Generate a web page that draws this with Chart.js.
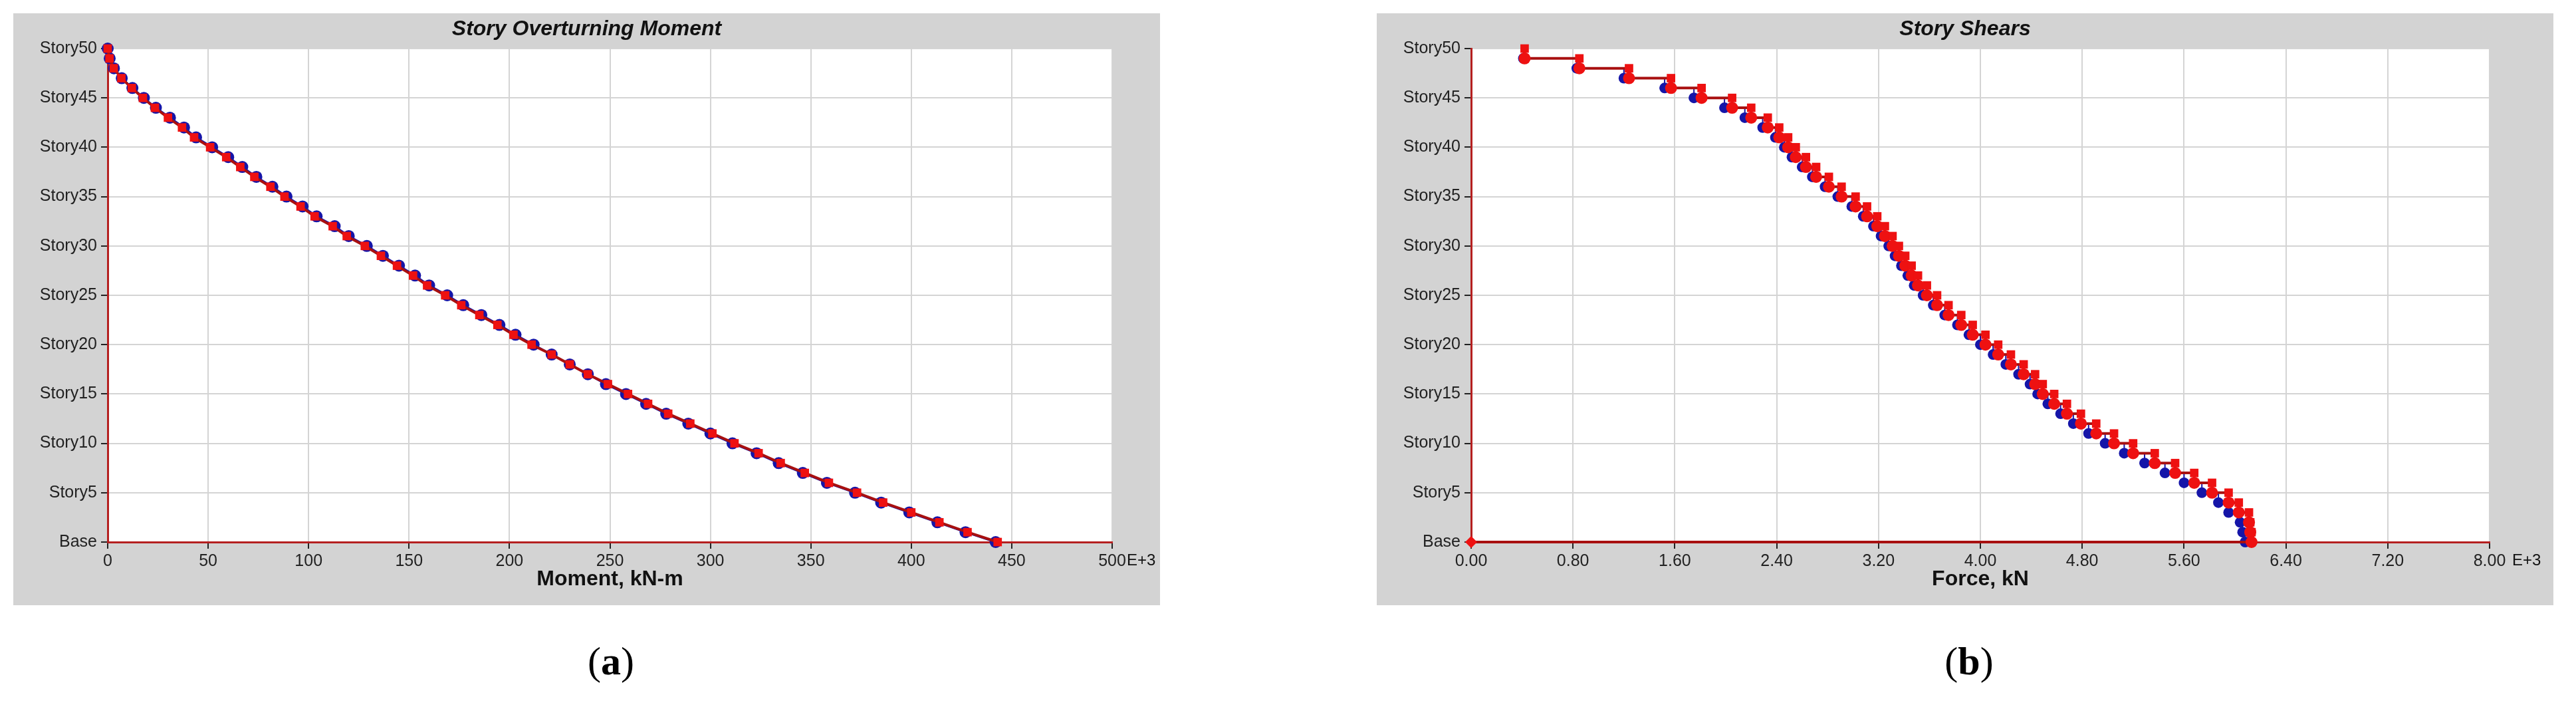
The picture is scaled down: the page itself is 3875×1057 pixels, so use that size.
<!DOCTYPE html>
<html>
<head>
<meta charset="utf-8">
<script src="https://cdn.jsdelivr.net/npm/chart.js@4"></script>
<style>
  body { margin: 0; background: #fff; width: 3875px; height: 1057px; position: relative; overflow: hidden; }
  .panel { position: absolute; top: 20px; height: 890px; }
  .cap { position: absolute; top: 960px; font-family: "Liberation Serif", serif; font-size: 60px; transform: translateX(-50%); }
</style>
</head>
<body>
<div class="panel" style="left:20px;width:1725px"><canvas id="momentChart"></canvas></div>
<div class="panel" style="left:2071px;width:1770px"><canvas id="shearChart"></canvas></div>
<div class="cap" style="left:919px">(<b>a</b>)</div>
<div class="cap" style="left:2962px">(<b>b</b>)</div>
<script>
// stories 0 (Base) .. 50
const storyTickLabels = ['Base', 'Story5', 'Story10', 'Story15', 'Story20', 'Story25', 'Story30', 'Story35', 'Story40', 'Story45', 'Story50'];

// overturning moment, E+3 kN-m, index = story (0 = Base)
const momentRed = [443, 428, 414, 400, 386, 373, 359, 347, 335, 324, 312, 301, 290, 279, 269, 259, 249, 239, 230, 221,
  211, 202, 194, 185, 176, 168, 159, 152, 144, 136, 128, 119, 112, 103, 96, 88, 81, 73, 66, 59,
  51, 43, 37, 30, 23.5, 17.5, 12, 6.8, 3, 0.9, 0];
const momentBlue = [442, 427, 413, 399, 385, 372, 358, 346, 334, 323, 311, 300, 289, 278, 268, 258, 248, 239, 230, 221,
  212, 203, 195, 186, 177, 169, 160, 153, 145, 137, 129, 120, 113, 104, 97, 89, 82, 74, 67, 60,
  52, 44, 38, 31, 24, 18, 12.3, 7, 3.1, 1, 0];
const momentTicks = [0, 50, 100, 150, 200, 250, 300, 350, 400, 450, 500];

// story shear, E+3 kN, index 0 = Story1 .. 49 = Story50
const shearRed = [6.13, 6.12, 6.11, 6.03, 5.95, 5.82, 5.68, 5.53, 5.37, 5.20, 5.05, 4.91, 4.79, 4.68, 4.58, 4.49, 4.43, 4.34, 4.24, 4.14,
  4.04, 3.94, 3.85, 3.75, 3.66, 3.58, 3.51, 3.46, 3.41, 3.36, 3.31, 3.25, 3.19, 3.11, 3.02, 2.91, 2.81, 2.71, 2.63, 2.55,
  2.49, 2.42, 2.33, 2.20, 2.05, 1.81, 1.57, 1.24, 0.85, 0.42];
const shearBlue = [6.08, 6.06, 6.04, 5.95, 5.87, 5.74, 5.60, 5.45, 5.29, 5.13, 4.98, 4.85, 4.73, 4.63, 4.53, 4.45, 4.39, 4.30, 4.20, 4.10,
  4.00, 3.91, 3.82, 3.72, 3.63, 3.55, 3.48, 3.43, 3.38, 3.33, 3.28, 3.22, 3.16, 3.08, 2.99, 2.88, 2.78, 2.68, 2.60, 2.52,
  2.46, 2.39, 2.29, 2.15, 1.99, 1.75, 1.52, 1.20, 0.83, 0.41];
const shearTicks = [0, 0.8, 1.6, 2.4, 3.2, 4.0, 4.8, 5.6, 6.4, 7.2, 8.0];

const RED = '#ee1111';
const LINE = '#a81010';
const BLUE = '#1515a8';
const GRID = '#d4d4d4';
const AXIS = '#b52020';

const frame = {
  id: 'frame',
  beforeDraw(chart) {
    const { ctx, chartArea: a, width, height } = chart;
    ctx.save();
    ctx.fillStyle = '#d3d3d3';
    ctx.fillRect(0, 0, width, height);
    ctx.fillStyle = '#fff';
    ctx.fillRect(a.left, a.top, a.right - a.left, a.bottom - a.top);
    ctx.restore();
  },
  afterDraw(chart, args, opts) {
    const { ctx, chartArea: a, width } = chart;
    ctx.save();
    ctx.fillStyle = '#111';
    ctx.textAlign = 'center';
    ctx.textBaseline = 'middle';
    ctx.font = 'italic bold 32px "Liberation Sans", Arial, sans-serif';
    ctx.fillText(opts.title, width / 2, 24);
    ctx.font = 'bold 32px "Liberation Sans", Arial, sans-serif';
    ctx.fillText(opts.xTitle, (a.left + a.right) / 2, a.bottom + 56);
    ctx.font = '24px "Liberation Sans", Arial, sans-serif';
    ctx.textAlign = 'left';
    ctx.fillText('E+3', a.right + opts.suffixGap, a.bottom + 28);
    ctx.restore();
  }
};

function scales(xMin, xMax, ticks, fmt) {
  return {
    x: {
      type: 'linear', min: xMin, max: xMax,
      afterBuildTicks: s => { s.ticks = ticks.map(v => ({ value: v })); },
      afterFit: s => { s.height = 95; },
      grid: { color: GRID, lineWidth: 2, drawTicks: true, tickLength: 10, tickColor: '#222' },
      border: { color: AXIS, width: 3 },
      ticks: { color: '#222', font: { size: 25, family: '"Liberation Sans", Arial' }, padding: 4, maxRotation: 0, callback: fmt }
    },
    y: {
      type: 'linear', min: 0, max: 50,
      afterBuildTicks: s => { s.ticks = storyTickLabels.map((_, i) => ({ value: i * 5 })); },
      afterFit: s => { s.width = 142; },
      grid: { color: GRID, lineWidth: 2, tickLength: 10, tickColor: '#222' },
      border: { color: AXIS, width: 3 },
      ticks: { color: '#222', font: { size: 25, family: '"Liberation Sans", Arial' }, padding: 6,
        callback: v => storyTickLabels[v / 5] }
    }
  };
}

const common = {
  responsive: true, maintainAspectRatio: false, animation: false,
  plugins: { legend: { display: false }, tooltip: { enabled: false } }
};

new Chart(document.getElementById('momentChart'), {
  type: 'scatter',
  data: {
    datasets: [
      { data: momentBlue.map((v, i) => ({ x: v, y: i })), showLine: true, borderColor: BLUE, borderWidth: 3,
        pointStyle: 'circle', pointRadius: 9, pointBackgroundColor: BLUE, pointBorderWidth: 0, clip: false, order: 2 },
      { data: momentRed.map((v, i) => ({ x: v, y: i })), showLine: true, borderColor: LINE, borderWidth: 4,
        pointStyle: 'rect', pointRadius: 9, pointBackgroundColor: RED, pointBorderWidth: 0, clip: false, order: 1 }
    ]
  },
  options: { ...common,
    layout: { padding: { top: 53, right: 72, left: 0, bottom: 0 } },
    scales: scales(0, 500, momentTicks, v => String(v)),
    plugins: { ...common.plugins, frame: { title: 'Story Overturning Moment', xTitle: 'Moment, kN-m', suffixGap: 22 } }
  },
  plugins: [frame]
});

// step profile: each story drawn from its top (y = story) to its bottom (y = story - 1)
const stepRed = [];
for (let s = 50; s >= 1; s--) {
  stepRed.push({ x: shearRed[s - 1], y: s, top: true });
  stepRed.push({ x: shearRed[s - 1], y: s - 1, top: false });
}
stepRed.push({ x: 0, y: 0, top: false });
const stepBlue = [];
for (let s = 50; s >= 1; s--) {
  stepBlue.push({ x: shearBlue[s - 1], y: s });
  stepBlue.push({ x: shearBlue[s - 1], y: s - 1 });
}

new Chart(document.getElementById('shearChart'), {
  type: 'scatter',
  data: {
    datasets: [
      { data: stepBlue, showLine: true, borderColor: BLUE, borderWidth: 2,
        pointStyle: 'circle', pointRadius: ctx => (ctx.dataIndex % 2 ? 8 : 0), pointBackgroundColor: BLUE,
        pointBorderWidth: 0, clip: false, order: 2 },
      { data: stepRed, showLine: true, borderColor: LINE, borderWidth: 4,
        pointStyle: ctx => (ctx.raw && ctx.raw.top ? 'rect' : (ctx.dataIndex === stepRed.length - 1 ? 'rectRot' : 'circle')),
        pointRadius: 9, pointBackgroundColor: RED, pointBorderWidth: 0, clip: false, order: 1 }
    ]
  },
  options: { ...common,
    layout: { padding: { top: 53, right: 96, left: 0, bottom: 0 } },
    scales: scales(0, 8, shearTicks, v => v.toFixed(2)),
    plugins: { ...common.plugins, frame: { title: 'Story Shears', xTitle: 'Force, kN', suffixGap: 34 } }
  },
  plugins: [frame]
});
</script>
</body>
</html>
